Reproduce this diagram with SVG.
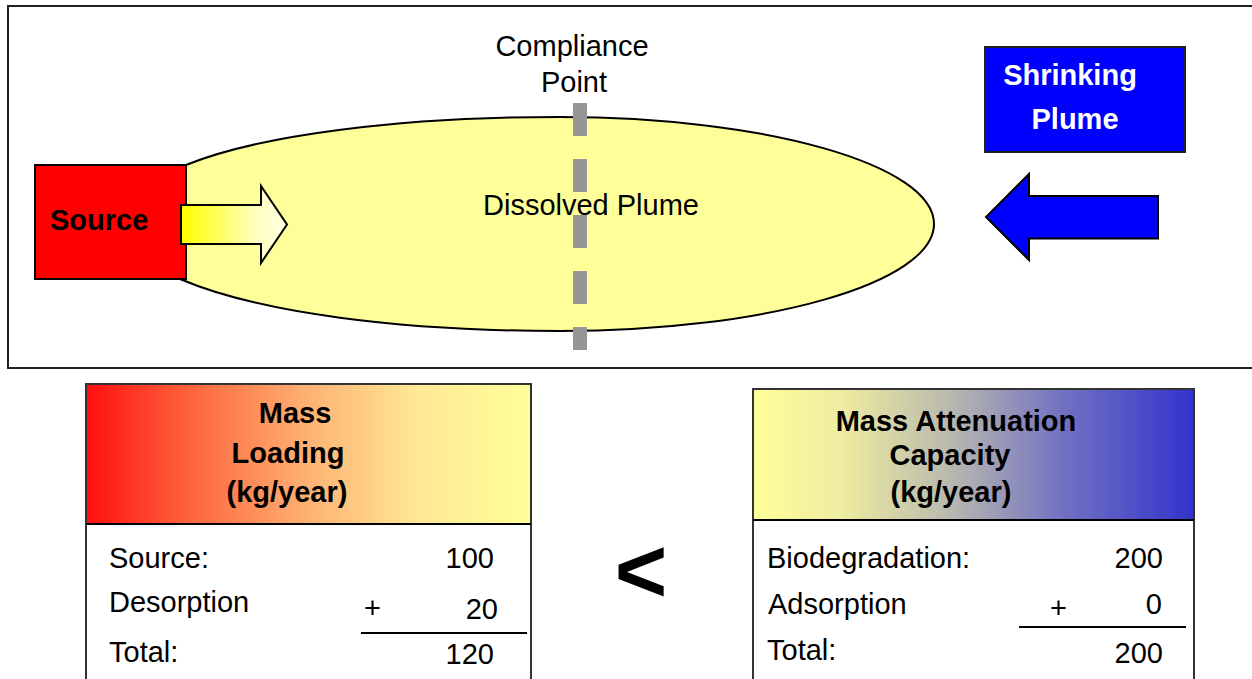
<svg xmlns="http://www.w3.org/2000/svg" width="1252" height="679" viewBox="0 0 1252 679">
<defs>
<linearGradient id="gArrow" x1="0" y1="0" x2="1" y2="0">
<stop offset="0" stop-color="#ffff00"/>
<stop offset="0.25" stop-color="#ffff40"/>
<stop offset="0.7" stop-color="#ffffc0"/>
<stop offset="1" stop-color="#ffffe0"/>
</linearGradient>
<linearGradient id="gLoad" x1="0" y1="0" x2="1" y2="0">
<stop offset="0" stop-color="#ff0f0f"/>
<stop offset="0.25" stop-color="#fd6a40"/>
<stop offset="0.5" stop-color="#fdb274"/>
<stop offset="0.75" stop-color="#ffe995"/>
<stop offset="1" stop-color="#ffff99"/>
</linearGradient>
<linearGradient id="gAtt" x1="0" y1="0" x2="1" y2="0">
<stop offset="0" stop-color="#ffff99"/>
<stop offset="0.2" stop-color="#eeeca0"/>
<stop offset="0.45" stop-color="#b8b8b0"/>
<stop offset="0.7" stop-color="#7272c2"/>
<stop offset="1" stop-color="#3333cc"/>
</linearGradient>
</defs>
<style>
text{font-family:"Liberation Sans",Arial,sans-serif;font-size:29px;fill:#000}
.b{font-weight:bold}
.w{fill:#fff}
.m{text-anchor:middle}
.e{text-anchor:end}
.ln{stroke:#000;stroke-width:2;fill:none}
</style>
<rect x="8" y="6" width="1252" height="362" fill="#fff" stroke="#222" stroke-width="2"/>
<g id="plume">
<path d="M 186 165 C 260 135 400 117 560 117 C 766 117 934 165 934 224 C 934 283 766 331 560 331 C 400 331 260 313 180 279 Z" fill="#ffff99" stroke="#000" stroke-width="2"/>
<text class="m" x="591" y="215">Dissolved Plume</text>
</g>
<g id="source">
<rect x="35" y="165" width="151" height="114" fill="#ff0000" stroke="#000" stroke-width="2"/>
<text class="b" x="50" y="230">Source</text>
</g>
<g id="compliance">
<line x1="580" y1="103" x2="580" y2="350" stroke="#969696" stroke-width="14" stroke-dasharray="33 23"/>
<text class="m" x="572" y="56">Compliance</text>
<text class="m" x="574" y="92">Point</text>
</g>
<g id="connectors">
<path d="M 181 205 L 261 205 L 261 186 L 287 224.5 L 261 263 L 261 244 L 181 244 Z" fill="url(#gArrow)" stroke="#000" stroke-width="2"/>
<path d="M 1158 196 L 1029 196 L 1029 174 L 986 217 L 1029 260 L 1029 238.5 L 1158 238.5 Z" fill="#0000ff" stroke="#000" stroke-width="2"/>
</g>
<g id="shrinking">
<rect x="985" y="47" width="200" height="105" fill="#0000ff" stroke="#222" stroke-width="2"/>
<text class="b w m" x="1070" y="85">Shrinking</text>
<text class="b w m" x="1075" y="129">Plume</text>
</g>
<g id="loading">
<rect x="86" y="384" width="445" height="140" fill="url(#gLoad)"/>
<path d="M 86 679 L 86 384 L 531 384 L 531 679" fill="none" stroke="#333" stroke-width="2"/>
<line x1="86" y1="524" x2="531" y2="524" class="ln"/>
<text class="b m" x="295" y="423">Mass</text>
<text class="b m" x="288" y="463">Loading</text>
<text class="b m" x="287" y="502">(kg/year)</text>
<text x="109" y="568">Source:</text>
<text class="e" x="494" y="568">100</text>
<text x="109" y="612">Desorption</text>
<text x="364" y="618">+</text>
<text class="e" x="498" y="619">20</text>
<line x1="361" y1="633" x2="527" y2="633" class="ln"/>
<text x="109" y="662">Total:</text>
<text class="e" x="494" y="664">120</text>
</g>
<g id="lessthan">
<text class="b m" x="641" y="602" style="font-size:90px">&lt;</text>
</g>
<g id="attenuation">
<rect x="753" y="389" width="441" height="131" fill="url(#gAtt)"/>
<path d="M 753 679 L 753 389 L 1194 389 L 1194 679" fill="none" stroke="#333" stroke-width="2"/>
<line x1="753" y1="520" x2="1194" y2="520" class="ln"/>
<text class="b m" x="956" y="431">Mass Attenuation</text>
<text class="b m" x="950" y="465">Capacity</text>
<text class="b m" x="951" y="502">(kg/year)</text>
<text x="767" y="568">Biodegradation:</text>
<text class="e" x="1163" y="568">200</text>
<text x="768" y="614">Adsorption</text>
<text x="1050" y="618">+</text>
<text class="e" x="1162" y="614">0</text>
<line x1="1019" y1="627" x2="1186" y2="627" class="ln"/>
<text x="767" y="660">Total:</text>
<text class="e" x="1163" y="663">200</text>
</g>
</svg>
